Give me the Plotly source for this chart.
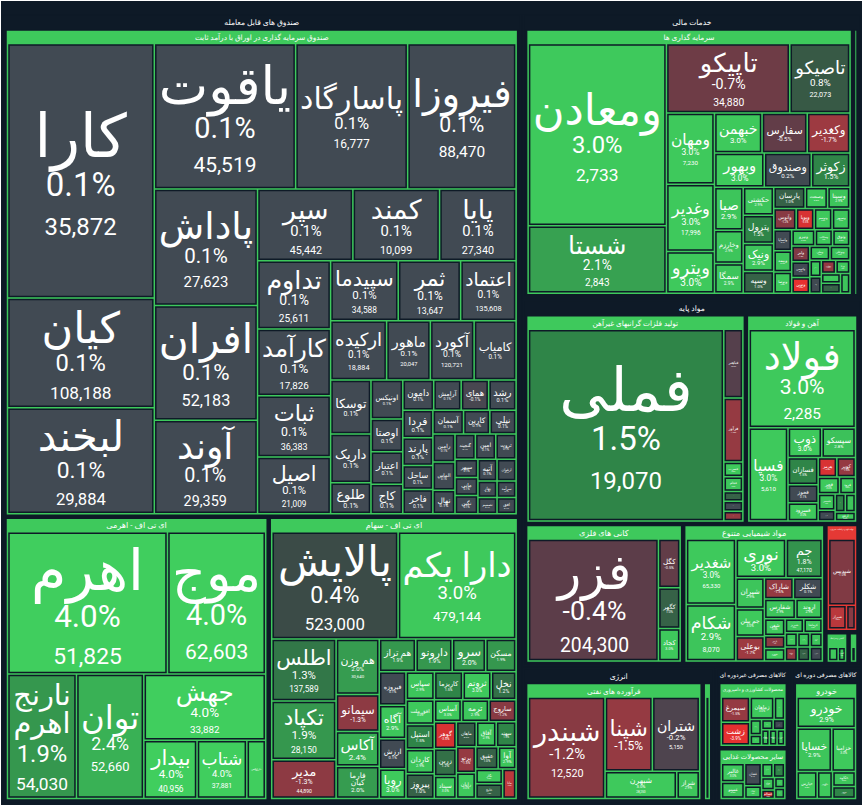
import plotly.graph_objects as go
from plotly.colors import sample_colorscale

# sectors (top level) and their industries
sectors = ['صندوق های قابل معامله', 'خدمات مالی', 'مواد پایه', 'انرژی',
           'کالاهای مصرفی غیردوره ای', 'کالاهای مصرفی دوره ای']

industries = ['صندوق سرمایه گذاری در اوراق با درآمد ثابت', 'ای تی اف - اهرمی', 'ای تی اف - سهام',
              'سرمایه گذاری ها', 'بیمه و صندوق بازنشستگی',
              'تولید فلزات گرانبهای غیرآهن', 'آهن و فولاد', 'کانی های فلزی', 'مواد شیمیایی متنوع',
              'تولید کود و ترکیبات نیتروژن', 'کاشی و سرامیک', 'چوب',
              'فرآورده های نفتی', 'استخراج نفت',
              'محصولات کشاورزی و دامپروری', 'سایر محصولات غذایی',
              'خودرو']
industry_sector = [0, 0, 0, 1, 1, 2, 2, 2, 2, 2, 2, 2, 3, 3, 4, 4, 5]
# industry index direction (header bar colour): only the fertiliser group is down
industry_up = [True, True, True, True, True, True, True, True, True, False, True, True,
               True, True, True, True, True]

# ---- stocks: name / size (tile area) / change % / last price ----
fixed_names = ['کارا', 'کیان', 'لبخند', 'یاقوت', 'پاسارگاد', 'فیروزا', 'پاداش', 'افران', 'آوند',
               'سپر', 'کمند', 'پایا', 'تداوم', 'کارآمد', 'ثبات', 'اصیل', 'سپیدما', 'ثمر',
               'اعتماد', 'ارکیده', 'ماهور', 'آکورد', 'کامیاب', 'توسکا', 'داریک', 'طلوع', 'اونیکس',
               'اوصتا', 'اعتبار', 'کاج', 'دامون', 'آرامش', 'همای', 'رشد', 'فردا', 'پارند', 'ساحل',
               'فاخر', 'آسمان', 'کارین', 'نیلی', 'رامین', 'الماس', 'نهال', 'گنجینه', 'امین', 'ثروت',
               'سپهر', 'مانی', 'نگین', 'آتیه', 'ارغوان', 'بهار', 'تصمیم', 'سرآمد', 'افق']
fixed_size = [360, 155, 150, 198, 157, 152, 116, 114, 93, 66, 60, 53, 48, 47, 43, 40, 39, 36,
              32, 32, 25, 25, 24, 21, 19, 12, 12, 10, 10, 9, 9, 8, 8, 8, 8, 8, 7,
              7, 7, 6, 6, 6, 6, 5, 5, 5, 5, 4, 4, 4, 4, 4, 3, 3, 3, 3]
fixed_change = [0.1] * 32 + [-0.1] + [0.1] * 23
fixed_price = [35872, 108188, 29884, 45519, 16777, 88470, 27623, 52183, 29359,
               45442, 10099, 27340, 25611, 17826, 36383, 21009, 34588, 13647,
               135608, 18884, 20047, 120721] + [None] * 34

lev_names = ['اهرم', 'موج', 'نارنج اهرم', 'توان', 'جهش', 'بیدار', 'شتاب', 'دارایکس']
lev_size = [228, 140, 86, 84, 81, 31, 29, 11]
lev_change = [4.0, 4.0, 1.9, 2.4, 4.0, 4.0, 4.0, 4.0]
lev_price = [51825, 62603, 54030, 52660, 33882, 40956, 37881, None]

eq_names = ['پالایش', 'دارا یکم', 'اطلس', 'تکپاد', 'مدیر', 'هم وزن', 'سیمانو', 'آکاس',
            'فارما کیان', 'هم تراز', 'دارونو', 'سرو', 'مسکن', 'فیروزه', 'آگاه', 'ارزش', 'رویا',
            'سپاس', 'کاریزما', 'ثروتم', 'نخل', 'افق ملت', 'استیل', 'کاردان', 'پیروز', 'آساس',
            'ترمه', 'ساروج', 'گوهر', 'زرین', 'سیناد', 'ماهان', 'آفاق', 'سهند', 'پرتو', 'رایان',
            'عقیق', 'آوا', 'نگار', 'خلیج', 'مانا']
eq_size = [136, 127, 40, 38, 25, 24, 16, 15, 14, 12, 12, 11, 10, 9, 9, 8, 8, 8, 8, 8, 7, 7, 7,
           7, 7, 6, 6, 6, 6, 6, 5, 5, 5, 5, 5, 5, 5, 4, 4, 4, 4]
eq_change = [0.4, 3.0, 1.3, 1.9, -1.3, 2.0, -1.3, 2.4, 2.0, 1.9, 1.9, 2.0, 1.9, 0.1, 2.9, 0.1,
             3.0, 2.9, 1.5, 3.0, 1.2, 3.0, 1.5, 2.9, 1.0, 3.0, 2.9, -1.2, -3.5, 1.2, 3.0, 0.9,
             2.9, 1.5, -1.5, 3.0, 1.0, 2.9, 3.0, 1.0, -2.5]
eq_price = [523000, 479144, 137589, 28150, 44890, 30640] + [None] * 35

inv_names = ['ومعادن', 'شستا', 'تاپیکو', 'تاصیکو', 'ومهان', 'وغدیر', 'ویترو', 'خبهمن', 'سفارس',
             'وکغدیر', 'وبهور', 'وصندوق', 'زکوثر', 'صبا', 'وخارزم', 'سمگا', 'حکشتی', 'پترول',
             'ونیک', 'وسپه', 'پارسان', 'وصنعت', 'وسینا', 'وآتوس', 'وپویا', 'وتوسم', 'وسپهر',
             'ولساپا', 'وبیمه', 'وتوصا', 'ونیرو', 'وسکاب', 'وثوق', 'ولیز', 'وکبهمن', 'ونوین',
             'وملی', 'وبوعلی', 'وسبحان', 'وگستر', 'وتعاون', 'ورنا', 'وایرا', 'وآوا', 'وشمال']
inv_size = [265, 98, 90, 44, 36, 34, 21, 20, 19, 18, 18, 17, 14, 13, 10, 9, 9, 9, 9, 7, 7, 5, 5,
            5, 4, 4, 4, 4, 4, 4, 4, 3, 3, 3, 3, 3, 3, 3, 2, 2, 2, 2, 2, 2, 2]
inv_change = [3.0, 2.1, -0.7, 0.8, 3.0, 3.0, 3.0, 3.0, -0.5, -1.7, 3.0, 0.2, 1.5, 2.9, 2.9, 2.9,
              2.9, 1.5, 2.9, 1.0, 1.0, 3.0, 2.9, -1.2, -3.5, 3.0, 2.9, 0.1, 2.9, 3.0, 2.9, 3.0,
              2.9, -1.0, 0.1, -4.0, 3.0, 2.9, 3.0, 0.2, -1.5, 2.9, 3.0, 1.0, 2.9]
inv_price = [2733, 2843, 34880, 22073, 7230, 17996] + [None] * 39

ins_names = ['البرز', 'ما']
ins_size = [8, 6]
ins_change = [3.0, 2.9]
ins_price = [None, None]

prec_names = ['فملی', 'فباهنر', 'فرآور', 'فسرب', 'فجام', 'فگستر', 'فنفت', 'فروی']
prec_size = [400, 14, 13, 3, 3, 2, 2, 2]
prec_change = [1.5, -0.3, -1.5, 3.0, 2.9, 1.0, 0.1, -1.5]
prec_price = [19070] + [None] * 7

steel_names = ['فولاد', 'فسپا', 'ذوب', 'سیسکو', 'فسازان', 'فخوز', 'فسرود', 'هرمز', 'کویر',
               'فجر', 'فرود', 'فاسمین', 'فافزا', 'فکاوه', 'فایرا', 'ارفع']
steel_size = [115, 40, 11, 11, 9, 6, 6, 4, 4, 4, 3, 3, 2, 2, 2, 2]
steel_change = [3.0, 3.0, 3.0, 2.8, 1.5, 0.1, 3.0, -3.5, -1.5, 3.0, 3.0, 2.9, 0.1, 1.5, 2.9, 3.0]
steel_price = [2285, 5610] + [None] * 14

ore_names = ['فزر', 'کگل', 'کگهر', 'کجاد']
ore_size = [180, 12, 10, 8]
ore_change = [-0.4, -0.5, 1.0, 3.0]
ore_price = [204300, None, None, None]

chem_names = ['شغدیر', 'شکام', 'نوری', 'جم', 'شیران', 'جم پیلن', 'بوعلی', 'شاراک', 'شکلر',
              'شفارس', 'اروند', 'شفن', 'پارس', 'شپترو', 'شبریز', 'کرماشا', 'شصدف', 'شاملا',
              'زاگرس', 'مارون', 'شخارک', 'شکربن']
chem_size = [37, 32, 22, 16, 10, 9, 8, 7, 7, 7, 6, 4, 3, 3, 3, 3, 2, 2, 2, 2, 2, 2]
chem_change = [3.0, 2.9, 3.0, 1.8, 2.9, 3.0, -1.7, -1.5, 0.1, 2.9, 2.9, 3.0, -1.3, 3.0, 2.9,
               3.0, 3.0, -1.5, 3.0, 2.9, 1.0, 0.1]
chem_price = [65330, 8070, None, 47170] + [None] * 18

fert_names = ['شپدیس', 'شیراز', 'خراسان']
fert_size = [25, 6, 3]
fert_change = [-1.0, -2.5, -1.2]
fert_price = [None, None, None]

tile_names = ['کساوه', 'کسرا']
tile_size = [4, 3]
tile_change = [3.0, 3.0]
tile_price = [None, None]

wood_names = ['چکاپا']
wood_size = [3]
wood_change = [3.0]
wood_price = [None]

oil_names = ['شبندر', 'شپنا', 'شتران', 'شبهرن', 'شراز']
oil_size = [100, 45, 45, 25, 8]
oil_change = [-1.2, -1.5, -0.2, 3.0, 2.9]
oil_price = [12520, None, 5150, 28250, None]

drill_names = ['حفاری']
drill_size = [12]
drill_change = [2.9]
drill_price = [None]

agri_names = ['سیمرغ', 'زشت', 'زماهان', 'زکشت', 'زشگزا', 'زملارد', 'زدشت', 'زپارس', 'زقیام',
              'زمگسا', 'دامداری']
agri_size = [12, 11, 9, 4, 3, 2, 2, 2, 2, 2, 2]
agri_change = [-1.5, -3.9, 3.0, 3.0, 2.9, 3.0, 2.9, 0.1, 2.9, 3.0, 3.0]
agri_price = [None] * 11

food_names = ['غالبر', 'غمینو', 'غشان', 'غپاک', 'غگرجی', 'غکورش', 'غدام', 'غسالم', 'غنوش',
              'غبهنوش']
food_size = [8, 7, 7, 4, 3, 3, 3, 2, 2, 2]
food_change = [3.0, 2.9, 0.1, 3.0, 3.0, 1.5, 2.9, -3.0, 3.0, 2.9]
food_price = [None] * 10

auto_names = ['خودرو', 'خساپا', 'خزامیا', 'خپارس', 'خگستر', 'خکاوه', 'خمحور']
auto_size = [26, 22, 15, 8, 6, 5, 4]
auto_change = [2.9, 2.9, 3.0, 3.0, 3.0, 2.9, 1.5]
auto_price = [None] * 7

groups = [
    (fixed_names, fixed_size, fixed_change, fixed_price),
    (lev_names, lev_size, lev_change, lev_price),
    (eq_names, eq_size, eq_change, eq_price),
    (inv_names, inv_size, inv_change, inv_price),
    (ins_names, ins_size, ins_change, ins_price),
    (prec_names, prec_size, prec_change, prec_price),
    (steel_names, steel_size, steel_change, steel_price),
    (ore_names, ore_size, ore_change, ore_price),
    (chem_names, chem_size, chem_change, chem_price),
    (fert_names, fert_size, fert_change, fert_price),
    (tile_names, tile_size, tile_change, tile_price),
    (wood_names, wood_size, wood_change, wood_price),
    (oil_names, oil_size, oil_change, oil_price),
    (drill_names, drill_size, drill_change, drill_price),
    (agri_names, agri_size, agri_change, agri_price),
    (food_names, food_size, food_change, food_price),
    (auto_names, auto_size, auto_change, auto_price),
]

# two-word names the reference breaks over two lines
wrapped = {'نارنج اهرم', 'فارما کیان'}

# red -> slate -> green, over a -4%..+4% range
change_scale = [
    [0.0, 'rgb(232,48,47)'], [0.25, 'rgb(170,58,64)'], [0.375, 'rgb(128,58,68)'],
    [0.45, 'rgb(92,61,73)'], [0.5, 'rgb(65,74,83)'], [0.52, 'rgb(65,74,83)'],
    [0.5625, 'rgb(56,76,66)'], [0.625, 'rgb(54,98,71)'], [0.6875, 'rgb(47,133,72)'],
    [0.75, 'rgb(54,156,80)'], [0.8125, 'rgb(58,182,86)'], [0.875, 'rgb(62,201,92)'],
    [1.0, 'rgb(64,206,94)'],
]
NAVY = '#0e1a27'


def change_color(v):
    v = max(-4, min(4, v))
    return sample_colorscale(change_scale, [(v + 4) / 8])[0]


ids, labels, parents, values, colors, texts, sizes = [], [], [], [], [], [], []

for s in sectors:
    ids.append(s); labels.append(s); parents.append(''); values.append(0)
    colors.append(NAVY); texts.append(f'<b>{s}</b>'); sizes.append(11)

for i, ind in enumerate(industries):
    names, size, chg, price = groups[i]
    ids.append(ind); labels.append(ind); parents.append(sectors[industry_sector[i]])
    values.append(0)
    colors.append('rgb(62,201,92)' if industry_up[i] else 'rgb(229,57,53)')
    texts.append(ind); sizes.append(9)
    for n, sz, c, p in zip(names, size, chg, price):
        ids.append(ind + '/' + n); labels.append(n); parents.append(ind); values.append(sz)
        colors.append(change_color(c))
        if n in wrapped:
            head = f"<span style='font-size:40px'>{n.replace(' ', '<br>')}</span>"
        else:
            head = f"<span style='font-size:60px'>{n}</span>"
        line = head + f"<br><span style='font-size:33px'>{c:.1f}%</span>"
        if p is not None:
            line += f"<br><span style='font-size:24px'>{p:,}</span>"
        texts.append(line); sizes.append(30)

fig = go.Figure(go.Treemap(
    ids=ids,
    labels=labels,
    parents=parents,
    values=values,
    branchvalues='remainder',
    sort=False,
    text=texts,
    textinfo='text',
    textposition='middle center',
    textfont=dict(family='Roboto, DejaVu Sans', size=sizes, color='white'),
    marker=dict(colors=colors, line=dict(color=NAVY, width=1.5),
                pad=dict(t=15, l=3, r=3, b=3)),
    pathbar=dict(visible=False),
    tiling=dict(packing='squarify'),
    hoverinfo='skip',
))

fig.update_layout(
    width=863,
    height=806,
    margin=dict(l=0, r=0, t=0, b=0),
    paper_bgcolor=NAVY,
)

fig.write_html('out.html', config={'displayModeBar': False},
               post_script="document.body.style.margin='0';")
